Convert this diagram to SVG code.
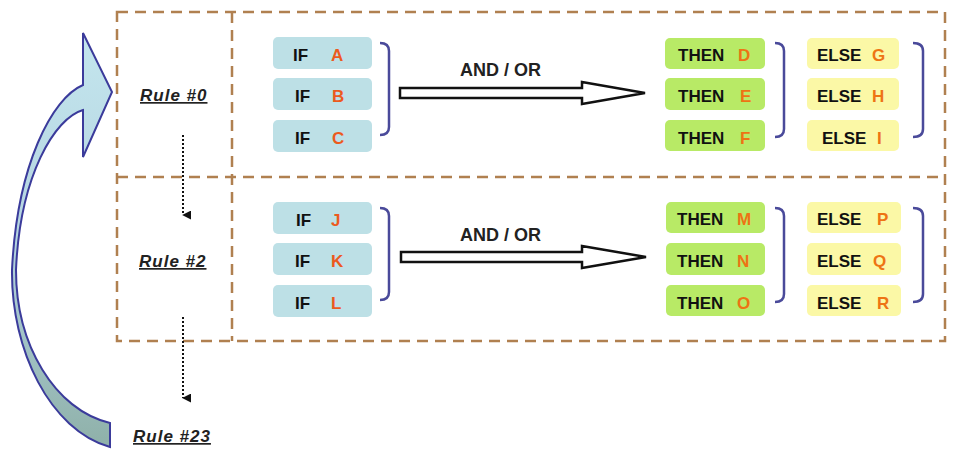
<svg xmlns="http://www.w3.org/2000/svg" width="954" height="454" viewBox="0 0 954 454">
<defs>
<linearGradient id="bigArrowGrad" x1="0" y1="30" x2="0" y2="450" gradientUnits="userSpaceOnUse">
<stop offset="0" stop-color="#c4e6ee"/>
<stop offset="0.5" stop-color="#b4d4e0"/>
<stop offset="1" stop-color="#8eb0a8"/>
</linearGradient>
<marker id="dotHead" viewBox="0 0 10 10" refX="5" refY="9" markerWidth="9" markerHeight="9" orient="auto-start-reverse" markerUnits="userSpaceOnUse">
<path d="M0 0 L10 0 L5 10 Z" fill="#111"/>
</marker>
<style>
.dash{fill:none;stroke:#b08050;stroke-width:2.5;stroke-dasharray:11 7}
.ifbox{fill:#bde0e6}
.thenbox{fill:#b8ea66}
.elsebox{fill:#fbf8a6}
.lbl{font-family:"Liberation Sans",Arial,sans-serif;font-weight:bold;font-size:17px;fill:#111}
.ltr{font-family:"Liberation Sans",Arial,sans-serif;font-weight:bold;font-size:17px;fill:#ec5a1e}
.ltr2{font-family:"Liberation Sans",Arial,sans-serif;font-weight:bold;font-size:17px;fill:#ee7414}
.op{font-family:"Liberation Sans",Arial,sans-serif;font-weight:bold;font-size:18px;fill:#222}
.rule{font-family:"Liberation Sans",Arial,sans-serif;font-weight:bold;font-style:italic;font-size:17px;fill:#222;letter-spacing:1px;text-decoration:underline}
.brk{fill:none;stroke:#4a4a9a;stroke-width:2.5}
.blk{fill:#fff;stroke:#111;stroke-width:2.5;stroke-linejoin:miter}
.dots{fill:none;stroke:#111;stroke-width:2;stroke-dasharray:2 2}
</style>
</defs>
<rect width="954" height="454" fill="#fff"/>

<g id="frame">
<rect class="dash" x="117" y="12" width="828" height="329"/>
<line class="dash" x1="117" y1="177" x2="945" y2="177"/>
<line class="dash" x1="232" y1="12" x2="232" y2="341"/>
</g>

<g id="loop-arrow">
<path d="M83 85 L83 33 L112 92 L83 157 L83 110 C55 118 20 175 16 270 C16 345 55 410 110 423 L110 447 C50 430 11 350 12 270 C17 165 52 98 83 85 Z" fill="url(#bigArrowGrad)" stroke="#3b3b9b" stroke-width="2" stroke-linejoin="miter"/>
</g>

<g id="rule0"><text class="rule" x="140" y="101">Rule #0</text></g>
<g id="rule2"><text class="rule" x="139" y="267">Rule #2</text></g>
<g id="rule23"><text class="rule" x="133" y="442">Rule #23</text></g>

<g id="connectors">
<line class="dots" x1="183" y1="135" x2="183" y2="215" marker-end="url(#dotHead)"/>
<line class="dots" x1="183" y1="317" x2="183" y2="398" marker-end="url(#dotHead)"/>
<polygon class="blk" points="400,88 582,88 582,82 645,93 582,104 582,98 400,98"/>
<polygon class="blk" points="401,252 582,252 582,246 646,257 582,268 582,262 401,262"/>
<path class="brk" d="M380 43 Q389 43 389 51 L389 127 Q389 135 380 135"/>
<path class="brk" d="M775 43 Q784 43 784 51 L784 129 Q784 137 775 137"/>
<path class="brk" d="M913 43 Q923 43 923 51 L923 129 Q923 137 913 137"/>
<path class="brk" d="M380 208 Q389 208 389 216 L389 292 Q389 300 380 300"/>
<path class="brk" d="M775 208 Q784 208 784 216 L784 294 Q784 302 775 302"/>
<path class="brk" d="M913 208 Q923 208 923 216 L923 294 Q923 302 913 302"/>
<text class="op" x="460" y="76">AND / OR</text>
<text class="op" x="460" y="241">AND / OR</text>
</g>

<g id="if-a"><rect class="ifbox" x="273" y="37" width="99" height="32" rx="5"/><text class="lbl" x="293" y="61">IF</text><text class="ltr" x="331" y="61">A</text></g>
<g id="if-b"><rect class="ifbox" x="273" y="78" width="99" height="32" rx="5"/><text class="lbl" x="295" y="102">IF</text><text class="ltr" x="332" y="102">B</text></g>
<g id="if-c"><rect class="ifbox" x="273" y="120" width="99" height="32" rx="5"/><text class="lbl" x="295" y="144">IF</text><text class="ltr" x="332" y="144">C</text></g>

<g id="then-d"><rect class="thenbox" x="665" y="38" width="100" height="31" rx="5"/><text class="lbl" x="678" y="61">THEN</text><text class="ltr2" x="738" y="61">D</text></g>
<g id="then-e"><rect class="thenbox" x="665" y="78" width="100" height="32" rx="5"/><text class="lbl" x="678" y="102">THEN</text><text class="ltr2" x="740" y="102">E</text></g>
<g id="then-f"><rect class="thenbox" x="665" y="120" width="100" height="31" rx="5"/><text class="lbl" x="678" y="144">THEN</text><text class="ltr2" x="740" y="144">F</text></g>

<g id="else-g"><rect class="elsebox" x="807" y="38" width="92" height="31" rx="5"/><text class="lbl" x="817" y="61">ELSE</text><text class="ltr2" x="872" y="61">G</text></g>
<g id="else-h"><rect class="elsebox" x="807" y="78" width="92" height="32" rx="5"/><text class="lbl" x="817" y="102">ELSE</text><text class="ltr2" x="872" y="102">H</text></g>
<g id="else-i"><rect class="elsebox" x="807" y="120" width="92" height="31" rx="5"/><text class="lbl" x="822" y="144">ELSE</text><text class="ltr2" x="877" y="144">I</text></g>

<g id="if-j"><rect class="ifbox" x="273" y="202" width="99" height="32" rx="5"/><text class="lbl" x="296" y="226">IF</text><text class="ltr" x="331" y="226">J</text></g>
<g id="if-k"><rect class="ifbox" x="273" y="243" width="99" height="32" rx="5"/><text class="lbl" x="295" y="267">IF</text><text class="ltr" x="331" y="267">K</text></g>
<g id="if-l"><rect class="ifbox" x="273" y="285" width="99" height="32" rx="5"/><text class="lbl" x="295" y="309">IF</text><text class="ltr" x="331" y="309">L</text></g>

<g id="then-m"><rect class="thenbox" x="666" y="202" width="99" height="31" rx="5"/><text class="lbl" x="677" y="225">THEN</text><text class="ltr2" x="737" y="225">M</text></g>
<g id="then-n"><rect class="thenbox" x="666" y="243" width="99" height="32" rx="5"/><text class="lbl" x="677" y="267">THEN</text><text class="ltr2" x="737" y="267">N</text></g>
<g id="then-o"><rect class="thenbox" x="666" y="285" width="99" height="31" rx="5"/><text class="lbl" x="677" y="309">THEN</text><text class="ltr2" x="737" y="309">O</text></g>

<g id="else-p"><rect class="elsebox" x="807" y="202" width="94" height="31" rx="5"/><text class="lbl" x="817" y="225">ELSE</text><text class="ltr2" x="877" y="225">P</text></g>
<g id="else-q"><rect class="elsebox" x="807" y="243" width="94" height="32" rx="5"/><text class="lbl" x="817" y="267">ELSE</text><text class="ltr2" x="873" y="267">Q</text></g>
<g id="else-r"><rect class="elsebox" x="807" y="285" width="94" height="31" rx="5"/><text class="lbl" x="817" y="309">ELSE</text><text class="ltr2" x="877" y="309">R</text></g>
</svg>
